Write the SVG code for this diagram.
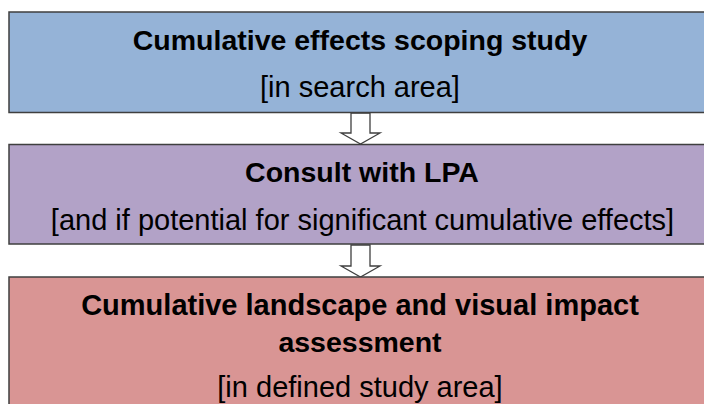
<svg xmlns="http://www.w3.org/2000/svg" width="704" height="404" viewBox="0 0 704 404">
<style>
.box{stroke:#3f3f3f;stroke-width:1.5}
.t{font-family:"Liberation Sans",Arial,sans-serif;font-size:29px;fill:#000;text-anchor:middle}
.b{font-weight:bold;font-size:28.5px}
.arr{fill:#fff;stroke:#3f3f3f;stroke-width:1.3}
</style>
<rect width="704" height="404" fill="#fff"/>
<g id="connectors">
<path class="arr" d="M351,113 L370,113 L370,133 L380,133 L360.5,144 L341,133 L351,133 Z"/>
<path class="arr" d="M351,245 L370,245 L370,266 L380,266 L360.5,277 L341,266 L351,266 Z"/>
</g>
<g id="scoping">
<rect class="box" x="9" y="12" width="710" height="100.5" fill="#95B3D7"/>
<text class="t b" x="360" y="50">Cumulative effects scoping study</text>
<text class="t" x="360" y="97">[in search area]</text>
</g>
<g id="consult">
<rect class="box" x="9" y="144.5" width="710" height="99.5" fill="#B2A2C7"/>
<text class="t b" x="362" y="182">Consult with LPA</text>
<text class="t" x="362.5" y="230">[and if potential for significant cumulative effects]</text>
</g>
<g id="assessment">
<rect class="box" x="9" y="277" width="710" height="140" fill="#D99594"/>
<text class="t b" x="360" y="315" style="font-size:29px">Cumulative landscape and visual impact</text>
<text class="t b" x="360" y="352">assessment</text>
<text class="t" x="360" y="397">[in defined study area]</text>
</g>
</svg>
